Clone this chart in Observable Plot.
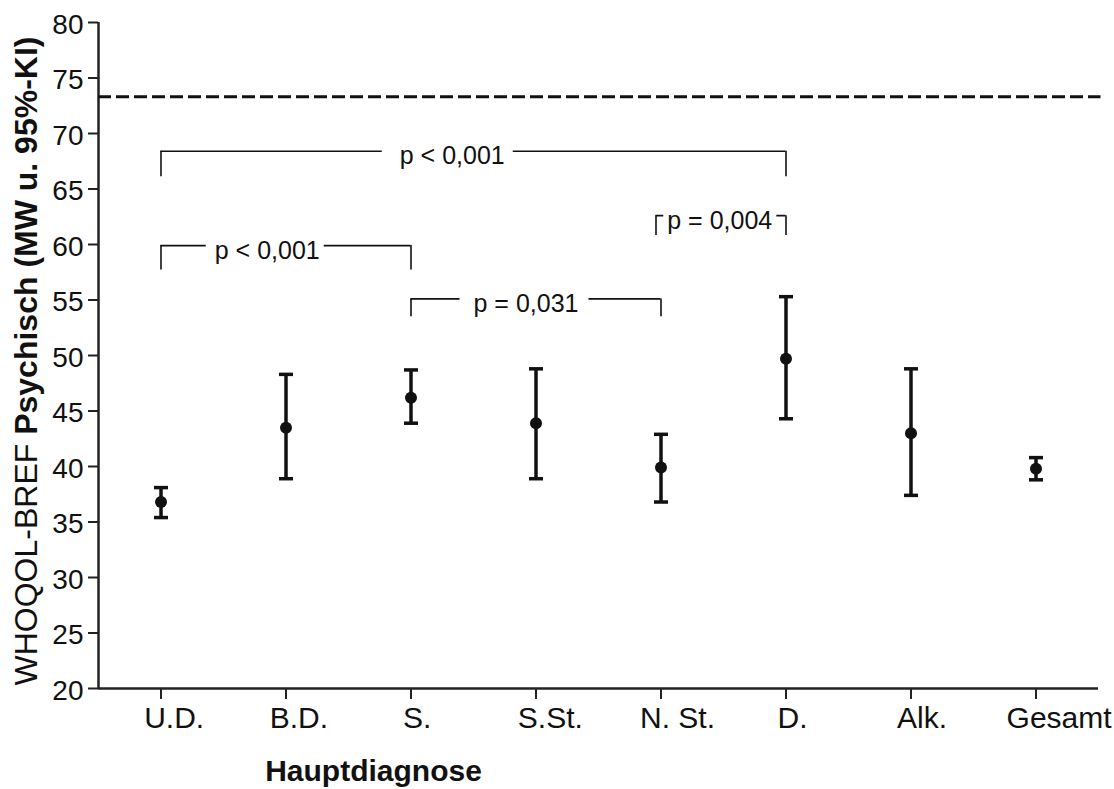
<!DOCTYPE html>
<html>
<head>
<meta charset="utf-8">
<script src="https://cdn.jsdelivr.net/npm/d3@7"></script>
<script src="https://cdn.jsdelivr.net/npm/@observablehq/plot@0.6"></script>
<style>
  html, body { margin: 0; padding: 0; background: #fff; }
  #chart svg { display: block; }
</style>
</head>
<body>
<div id="chart"></div>
<script>
// ---- data ----
const categories = ["U.D.", "B.D.", "S.", "S.St.", "N. St.", "D.", "Alk.", "Gesamt"];
const means = [36.8, 43.5, 46.2, 43.9, 39.9, 49.7, 43.0, 39.8];
const lower = [35.4, 38.9, 43.9, 38.9, 36.8, 44.3, 37.4, 38.8];
const upper = [38.1, 48.3, 48.7, 48.8, 42.9, 55.3, 48.8, 40.8];
const normValue = 73.3;
const yTicks = [20, 25, 30, 35, 40, 45, 50, 55, 60, 65, 70, 75, 80];

// significance brackets (category indices, heights in scale units)
const bracketFrom = [0, 0, 2, 3.96];
const bracketTo = [5, 2, 4, 5];
const bracketTop = [68.4, 59.9, 55.1, 62.6];
const bracketBottom = [66.1, 57.7, 53.5, 60.8];
const bracketLabels = ["p < 0,001", "p < 0,001", "p = 0,031", "p = 0,004"];
const bracketLabelX = [2.33, 0.85, 2.92, 4.47];

const yTitleNormal = "WHOQOL-BREF ";
const yTitleBold = "Psychisch (MW u. 95%-KI)";
const xTitle = "Hauptdiagnose";
const xTitleX = 1.7;

// ---- build tables ----
const rows = categories.map((c, i) => ({i, cat: c, mean: means[i], lo: lower[i], hi: upper[i]}));
const brackets = bracketLabels.map((label, k) => ({
  from: bracketFrom[k], to: bracketTo[k], top: bracketTop[k], bottom: bracketBottom[k],
  label, lx: bracketLabelX[k]
}));
// white gap (px) left / right of each bracket label
const gapLeft = [18, 9, 14, 4];
const gapRight = [8, 4, 10, 4];

const capSymbol = {
  draw(ctx, size) {
    const w = Math.sqrt(size / Math.PI);
    ctx.moveTo(-w, 0);
    ctx.lineTo(w, 0);
  }
};

const FONT = "'Liberation Sans', Arial, Helvetica, sans-serif";
const INK = "#111";

const chart = Plot.plot({
  width: 1114,
  height: 789,
  marginLeft: 98,
  marginRight: 16,
  marginTop: 22,
  marginBottom: 101,
  style: {fontFamily: FONT, background: "#fff", color: INK},
  x: {type: "linear", domain: [-0.5, 7.5]},
  y: {domain: [20, 80]},
  marks: [
    // axes
    Plot.axisY({ticks: yTicks, tickSize: 10, tickPadding: 5, fontSize: 28, label: null, stroke: "#222", strokeWidth: 2, fill: INK}),
    Plot.axisX({ticks: d3.range(categories.length), tickFormat: i => categories[i], tickSize: 11, tickPadding: 7, fontSize: 30, label: null, stroke: "#222", strokeWidth: 2, fill: INK}),
    Plot.ruleX([-0.5], {stroke: "#222", strokeWidth: 2.5}),
    Plot.ruleY([20], {stroke: "#222", strokeWidth: 2.5}),
    // reference line
    Plot.ruleY([normValue], {x1: -0.5, x2: 7.52, stroke: INK, strokeWidth: 3, strokeDasharray: "13,5"}),
    // brackets
    Plot.ruleY(brackets, {y: "top", x1: "from", x2: "to", stroke: INK, strokeWidth: 1.6}),
    Plot.ruleX(brackets, {x: "from", y1: "bottom", y2: "top", stroke: INK, strokeWidth: 1.6}),
    Plot.ruleX(brackets, {x: "to", y1: "bottom", y2: "top", stroke: INK, strokeWidth: 1.6}),
    Plot.text(brackets, {x: "lx", y: "top", text: "label", fontSize: 25, fill: INK, dy: 5, textAnchor: "middle"}),
    // error bars
    Plot.ruleX(rows, {x: "i", y1: "lo", y2: "hi", stroke: INK, strokeWidth: 3.5}),
    Plot.dot(rows, {x: "i", y: "lo", symbol: capSymbol, r: 7, stroke: INK, strokeWidth: 3.5, fill: "none"}),
    Plot.dot(rows, {x: "i", y: "hi", symbol: capSymbol, r: 7, stroke: INK, strokeWidth: 3.5, fill: "none"}),
    Plot.dot(rows, {x: "i", y: "mean", r: 6, fill: INK, stroke: null}),
    // x title
    Plot.text([xTitle], {x: xTitleX, frameAnchor: "bottom", dy: 92, text: d => d, fontSize: 30, fontWeight: "bold", fill: INK, textAnchor: "middle"})
  ]
});

document.getElementById("chart").appendChild(chart);

const svg = d3.select(chart);

// white gaps behind the bracket labels
const labelGroup = svg.selectAll('g[aria-label="text"]').nodes()[0];
d3.select(labelGroup).selectAll("text").each(function(d, k) {
  const b = this.getBBox();
  const r = document.createElementNS("http://www.w3.org/2000/svg", "rect");
  r.setAttribute("x", b.x - gapLeft[k]);
  r.setAttribute("y", b.y + 2);
  r.setAttribute("width", b.width + gapLeft[k] + gapRight[k]);
  r.setAttribute("height", b.height - 4);
  r.setAttribute("fill", "#fff");
  const tr = this.getAttribute("transform");
  if (tr) r.setAttribute("transform", tr);
  this.parentNode.insertBefore(r, this);
});

// y title with mixed weight
const t = svg.append("text")
  .attr("transform", "translate(37,361) rotate(-90)")
  .attr("text-anchor", "middle")
  .attr("font-family", FONT)
  .attr("font-size", 32)
  .attr("fill", INK);
t.append("tspan").text(yTitleNormal);
t.append("tspan").attr("font-weight", "bold").text(yTitleBold);

// x tick labels sit slightly right of their ticks in the original
svg.selectAll('g[aria-label="x-axis tick label"] text').each(function() {
  const len = this.getComputedTextLength();
  d3.select(this).attr("dx", (0.22 * len).toFixed(1));
});
svg.selectAll('g[aria-label="y-axis tick label"] text').attr("dy", "0.08em");
</script>
</body>
</html>
